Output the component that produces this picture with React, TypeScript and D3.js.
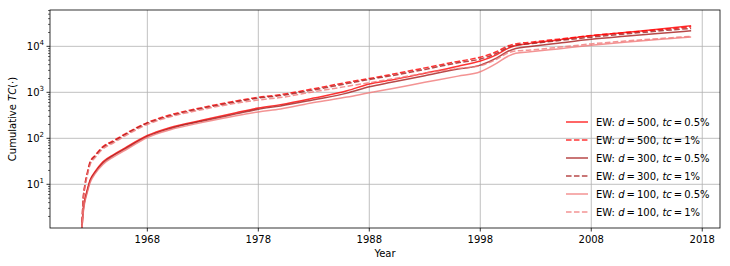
import React from "react";
import * as d3 from "d3";

const years = [1962.1, 1962.2, 1962.35, 1962.55, 1962.85, 1963.3, 1964, 1965, 1966, 1968, 1970, 1973, 1976, 1978, 1980, 1983, 1986, 1988, 1990, 1993, 1996, 1998, 1999.5, 2000.5, 2001.2, 2002.5, 2005, 2008, 2011, 2014, 2017];

const d500tc05 = [1, 2.5, 4.5, 7, 12.5, 19, 31, 45, 62, 115, 170, 250, 360, 455, 540, 750, 1080, 1520, 1850, 2600, 3700, 4800, 6600, 9000, 10400, 11600, 13800, 17000, 20000, 23500, 28000];
const d500tc1 = [1, 4, 9, 16, 31, 43, 66, 90, 125, 220, 320, 470, 650, 780, 890, 1200, 1650, 2000, 2450, 3400, 4700, 5800, 7700, 10200, 11300, 12300, 14300, 17200, 19800, 22800, 26500];
const d300tc05 = [1, 2.3, 4.2, 6.6, 12, 18, 29, 43, 59, 110, 162, 238, 340, 430, 505, 690, 960, 1320, 1650, 2300, 3200, 3900, 5600, 7800, 9000, 9900, 11700, 14200, 16500, 19000, 21700];
const d300tc1 = [1, 3.8, 8.5, 15, 29, 41, 63, 86, 120, 212, 305, 450, 620, 750, 850, 1130, 1550, 1900, 2300, 3150, 4400, 5300, 7100, 9500, 10600, 11400, 13300, 15800, 18500, 21500, 24500];
const d100tc05 = [1, 2.1, 3.9, 6.1, 11, 17, 27, 40, 55, 104, 152, 222, 310, 375, 435, 600, 790, 980, 1200, 1650, 2250, 2800, 4300, 6100, 7100, 7600, 8800, 10500, 12300, 14000, 16000];
const d100tc1 = [1, 3.5, 8, 14, 27, 38, 59, 81, 113, 200, 290, 425, 580, 680, 770, 1030, 1350, 1620, 1950, 2600, 3300, 3800, 5300, 7200, 7900, 8300, 9500, 11300, 13000, 14700, 16500];

const seriesValues = [d500tc05, d500tc1, d300tc05, d300tc1, d100tc05, d100tc1];
const seriesD = ["500", "500", "300", "300", "100", "100"];
const seriesTc = ["0.5%", "1%", "0.5%", "1%", "0.5%", "1%"];
const seriesColor = ["#ff0000", "#ff0000", "#a51c1c", "#a51c1c", "#f07878", "#f07878"];
const seriesDashed = [false, true, false, true, false, true];

const xTicks = [1968, 1978, 1988, 1998, 2008, 2018];
const yTicks = [10, 100, 1000, 10000];

const W = 730, H = 266;
const L = 50, R = 720, T = 10, B = 228;
const FONT = "DejaVu Sans, sans-serif";
const TS = "\u2009";

export default function App() {
  const x = d3.scaleLinear().domain([1959.23, 2019.6]).range([L, R]);
  const y = d3.scaleLog().domain([Math.pow(10, 0.05), Math.pow(10, 4.79)]).range([B, T]);

  const line = d3
    .line<number>()
    .x((_, i) => x(years[i]))
    .y((v) => y(v))
    .curve(d3.curveMonotoneX);

  const minor: number[] = [];
  for (let k = 0; k <= 4; k++) {
    for (let m = 2; m <= 9; m++) {
      const v = m * Math.pow(10, k);
      const yy = y(v);
      if (yy >= T && yy <= B) minor.push(v);
    }
  }

  const legY0 = 122, legDy = 18;

  return (
    <svg width={W} height={H} style={{ display: "block", position: "absolute", left: 0, top: 0 }} fontFamily={FONT}>
      <defs>
        <clipPath id="plotclip">
          <rect x={L} y={T} width={R - L} height={B - T} />
        </clipPath>
      </defs>
      <rect x={0} y={0} width={W} height={H} fill="#fff" />
      {xTicks.map((t) => (
        <line key={"gx" + t} x1={x(t)} x2={x(t)} y1={T} y2={B} stroke="#b0b0b0" strokeWidth={0.8} />
      ))}
      {yTicks.map((t) => (
        <line key={"gy" + t} x1={L} x2={R} y1={y(t)} y2={y(t)} stroke="#b0b0b0" strokeWidth={0.8} />
      ))}
      <g clipPath="url(#plotclip)">
        {seriesValues.map((vals, i) => (
          <path
            key={"s" + i}
            d={line(vals) || ""}
            fill="none"
            stroke={seriesColor[i]}
            strokeOpacity={0.8}
            strokeWidth={1.5}
            strokeDasharray={seriesDashed[i] ? "5.55 2.4" : undefined}
          />
        ))}
      </g>
      <rect x={L} y={T} width={R - L} height={B - T} fill="none" stroke="#000" strokeWidth={0.8} />
      {xTicks.map((t) => (
        <g key={"xt" + t}>
          <line x1={x(t)} x2={x(t)} y1={B} y2={B + 3.5} stroke="#000" strokeWidth={0.8} />
          <text x={x(t)} y={B + 15} fontSize={10} textAnchor="middle" fill="#000">
            {t}
          </text>
        </g>
      ))}
      {yTicks.map((t) => (
        <g key={"yt" + t}>
          <line x1={L - 3.5} x2={L} y1={y(t)} y2={y(t)} stroke="#000" strokeWidth={0.8} />
          <text x={L - 6} y={y(t) + 4} fontSize={10} textAnchor="end" fill="#000">
            <tspan>10</tspan>
            <tspan fontSize={7} dy={-5}>{Math.round(Math.log10(t))}</tspan>
          </text>
        </g>
      ))}
      {minor.map((v, i) => (
        <line key={"ym" + i} x1={L - 2} x2={L} y1={y(v)} y2={y(v)} stroke="#000" strokeWidth={0.6} />
      ))}
      <text x={(L + R) / 2} y={257} fontSize={10} textAnchor="middle" fill="#000">
        Year
      </text>
      <text transform={`translate(16,${(T + B) / 2}) rotate(-90)`} fontSize={10} textAnchor="middle" fill="#000">
        <tspan>Cumulative </tspan>
        <tspan fontStyle="italic">TC</tspan>
        <tspan>(·)</tspan>
      </text>
      {seriesValues.map((_, i) => {
        const ly = legY0 + i * legDy;
        return (
          <g key={"lg" + i}>
            <line
              x1={566}
              x2={588}
              y1={ly}
              y2={ly}
              stroke={seriesColor[i]}
              strokeOpacity={0.8}
              strokeWidth={1.5}
              strokeDasharray={seriesDashed[i] ? "5.55 2.4" : undefined}
            />
            <text x={596} y={ly + 3.5} fontSize={10} fill="#000">
              <tspan>EW: </tspan>
              <tspan fontStyle="italic">d</tspan>
              <tspan>{TS}={TS}{seriesD[i]}, </tspan>
              <tspan fontStyle="italic">tc</tspan>
              <tspan>{TS}={TS}{seriesTc[i]}</tspan>
            </text>
          </g>
        );
      })}
    </svg>
  );
}
